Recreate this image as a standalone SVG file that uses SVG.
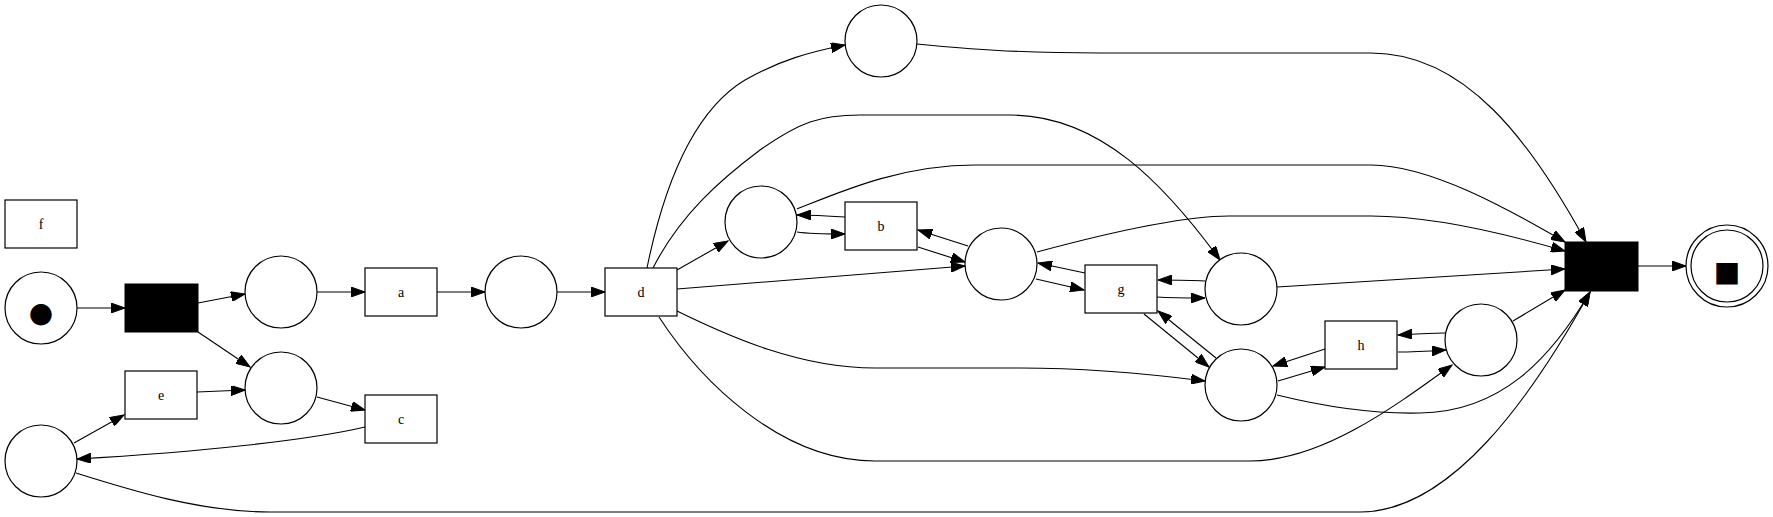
<svg xmlns="http://www.w3.org/2000/svg" width="1773" height="517" viewBox="0 0 1773 517">
<style>
.pl{fill:#fff;stroke:#000;stroke-width:1.2}
.tr{fill:#fff;stroke:#000;stroke-width:1.2}
.bk{fill:#000;stroke:#000;stroke-width:1}
.lb{font-family:"Liberation Serif",serif;font-size:14px;text-anchor:middle;fill:#000}
.tk{font-family:"DejaVu Sans",sans-serif;text-anchor:middle;fill:#000}
#edges path{fill:none;stroke:#000;stroke-width:1.1;marker-end:url(#ah)}
</style>
<defs>
<marker id="ah" markerUnits="userSpaceOnUse" markerWidth="15" markerHeight="10" refX="14" refY="5" orient="auto">
<path d="M0,0 L14,5 L0,10 z" fill="#000" stroke="#000" stroke-width="1"/>
</marker>
</defs>
<rect width="1773" height="517" fill="#fff"/>
<g id="edges">
<path d="M77,308 L125,308"/>
<path d="M198,303 L245,294"/>
<path d="M198,332 L250,367"/>
<path d="M317,292 L365,292"/>
<path d="M437,292 L485,292"/>
<path d="M557,292 L605,292"/>
<path d="M197,392 L245,390"/>
<path d="M317,397 L365,410"/>
<path d="M365,427 C310,440 200,452 77,459"/>
<path d="M74,443 L124,415"/>
<path d="M76,473 C130,490 200,512 270,512 L1360,512 C1450,512 1530,400 1590,292"/>
<path d="M647,268 C665,180 695,110 745,80 C780,60 810,52 845,45"/>
<path d="M653,268 C680,215 720,180 760,150 C800,122 820,115 860,115 L1010,115 C1100,115 1165,185 1220,260"/>
<path d="M677,270 L728,241"/>
<path d="M677,289 L965,266"/>
<path d="M677,311 C730,337 800,368 875,368 L1020,368 C1080,368 1150,374 1205,381"/>
<path d="M659,317 C700,380 780,461 875,461 L1250,461 C1320,461 1390,410 1452,365"/>
<path d="M917,44 C960,48 1010,53 1100,53 L1371,53 C1465,53 1530,140 1586,242"/>
<path d="M797,209 C840,192 900,165 975,165 L1371,165 C1430,165 1510,210 1565,242"/>
<path d="M1037,252 C1100,235 1180,216 1229,216 L1371,216 C1430,216 1500,232 1565,251"/>
<path d="M1277,287 L1565,269"/>
<path d="M1513,321 L1565,290"/>
<path d="M1277,395 C1330,408 1380,414 1420,413 C1500,412 1550,360 1590,292"/>
<path d="M845,217 C830,216 815,215 797,215"/>
<path d="M797,232 C810,234 825,234 845,234"/>
<path d="M968,246 L918,230"/>
<path d="M918,247 L965,262"/>
<path d="M1085,273 L1038,263"/>
<path d="M1036,279 L1084,290"/>
<path d="M1205,281 C1190,280 1175,280 1158,280"/>
<path d="M1157,297 C1172,298 1190,298 1205,298"/>
<path d="M1144,314 L1209,367"/>
<path d="M1216,358 L1158,311"/>
<path d="M1325,349 L1273,366"/>
<path d="M1278,381 L1325,367"/>
<path d="M1445,333 C1430,333 1415,334 1398,335"/>
<path d="M1398,352 C1413,352 1430,351 1446,350"/>
<path d="M1638,266 L1686,266"/>
</g>
<g id="f"><rect class="tr" x="5" y="200" width="72" height="48"/><text class="lb" x="41" y="229">f</text></g>
<g id="p_start"><circle class="pl" cx="41" cy="308" r="36"/><text class="tk" x="41" y="322" font-size="28">●</text></g>
<g id="t_start"><rect class="bk" x="125" y="284" width="73" height="48"/></g>
<g id="p1"><circle class="pl" cx="281" cy="292" r="36"/></g>
<g id="a"><rect class="tr" x="365" y="268" width="72" height="48"/><text class="lb" x="401" y="297">a</text></g>
<g id="p2"><circle class="pl" cx="281" cy="388" r="36"/></g>
<g id="e"><rect class="tr" x="125" y="371" width="72" height="48"/><text class="lb" x="161" y="400">e</text></g>
<g id="c"><rect class="tr" x="365" y="395" width="72" height="48"/><text class="lb" x="401" y="424">c</text></g>
<g id="p_bl"><circle class="pl" cx="41" cy="461" r="36"/></g>
<g id="p3"><circle class="pl" cx="521" cy="292" r="36"/></g>
<g id="d"><rect class="tr" x="605" y="268" width="72" height="48"/><text class="lb" x="641" y="297">d</text></g>
<g id="p_top"><circle class="pl" cx="881" cy="41" r="36"/></g>
<g id="p_b"><circle class="pl" cx="761" cy="222" r="36"/></g>
<g id="b"><rect class="tr" x="845" y="202" width="72" height="48"/><text class="lb" x="881" y="231">b</text></g>
<g id="p_g"><circle class="pl" cx="1001" cy="264" r="36"/></g>
<g id="g"><rect class="tr" x="1085" y="265" width="72" height="48"/><text class="lb" x="1121" y="294">g</text></g>
<g id="p_gr"><circle class="pl" cx="1241" cy="289" r="36"/></g>
<g id="p_gb"><circle class="pl" cx="1241" cy="385" r="36"/></g>
<g id="h"><rect class="tr" x="1325" y="321" width="72" height="48"/><text class="lb" x="1361" y="350">h</text></g>
<g id="p_hr"><circle class="pl" cx="1481" cy="340" r="36"/></g>
<g id="t_end"><rect class="bk" x="1565" y="242" width="73" height="49"/></g>
<g id="p_end"><circle class="pl" cx="1727" cy="266" r="41"/><circle class="pl" cx="1727" cy="266" r="36"/><text class="tk" x="1727" y="281" font-size="28">■</text></g>
</svg>
